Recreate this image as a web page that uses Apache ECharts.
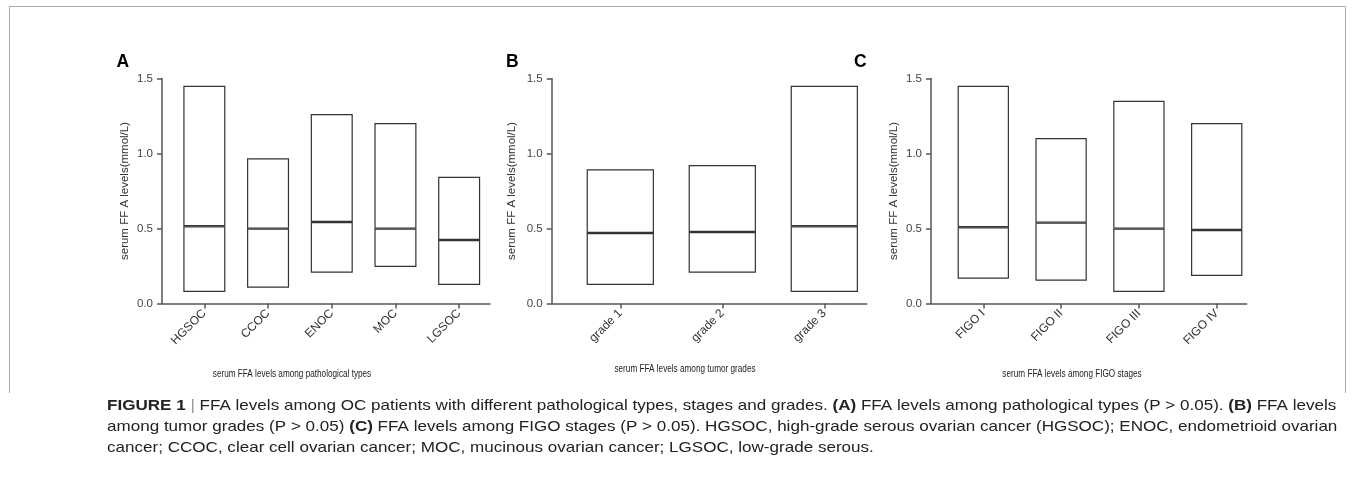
<!DOCTYPE html>
<html>
<head>
<meta charset="utf-8">
<script src="https://cdn.jsdelivr.net/npm/echarts@6/dist/echarts.min.js"></script>
<style>html,body{margin:0;padding:0;background:#fff}#c{width:1355px;height:493px}</style>
</head>
<body>
<div id="c"></div>
<script>
// ---- data ----
const catsA = ['HGSOC', 'CCOC', 'ENOC', 'MOC', 'LGSOC'];
const minA = [0.077, 0.105, 0.205, 0.243, 0.123];
const medA = [0.515, 0.499, 0.543, 0.499, 0.423];
const maxA = [1.452, 0.968, 1.263, 1.203, 0.845];

const catsB = ['grade 1', 'grade 2', 'grade 3'];
const minB = [0.123, 0.205, 0.077];
const medB = [0.470, 0.477, 0.515];
const maxB = [0.895, 0.923, 1.452];

const catsC = ['FIGO I', 'FIGO II', 'FIGO III', 'FIGO IV'];
const minC = [0.165, 0.152, 0.077, 0.183];
const medC = [0.508, 0.539, 0.499, 0.490];
const maxC = [1.452, 1.103, 1.352, 1.203];

const yMin = 0, yMax = 1.5, yStep = 0.5;
const yTitle = 'serum FF A levels(mmol/L)';
const panelLetters = ['A', 'B', 'C'];
const xTitles = ['serum FFA levels among pathological types', 'serum FFA levels among tumor grades', 'serum FFA levels among FIGO stages'];
const captionLines = [
  '{b|FIGURE 1} {s||} FFA levels among OC patients with different pathological types, stages and grades. {b|(A)} FFA levels among pathological types (P > 0.05). {b|(B)} FFA levels',
  'among tumor grades (P > 0.05) {b|(C)} FFA levels among FIGO stages (P > 0.05). HGSOC, high-grade serous ovarian cancer (HGSOC); ENOC, endometrioid ovarian',
  'cancer; CCOC, clear cell ovarian cancer; MOC, mucinous ovarian cancer; LGSOC, low-grade serous.'
];

// ---- layout ----
const TOP = 78.5, H = 225;
const panels = [
  {cats: catsA, mn: minA, md: medA, mx: maxA, axisX: 162, axisEnd: 490, bandL: 172.5, bandW: 318.5, nameX: 292, nameY: 374, letterX: 116.5, nameGap: 31},
  {cats: catsB, mn: minB, md: medB, mx: maxB, axisX: 551.7, axisEnd: 866.7, bandL: 569.3, bandW: 306, nameX: 685, nameY: 369, letterX: 506, nameGap: 34},
  {cats: catsC, mn: minC, md: medC, mx: maxC, axisX: 931, axisEnd: 1246.7, bandL: 944.4, bandW: 311.2, nameX: 1072, nameY: 374, letterX: 854, nameGap: 31}
];

const AX = '#555', BOX = '#333';
const grid = [], xAxis = [], yAxis = [], series = [], graphic = [];
const fmt = v => v.toFixed(1);

panels.forEach((p, i) => {
  const gF = grid.length;
  grid.push({left: p.axisX, top: TOP, width: p.axisEnd - p.axisX, height: H});
  const gD = grid.length;
  grid.push({left: p.bandL, top: TOP, width: p.bandW, height: H});

  // frame axes
  xAxis.push({gridIndex: gF, type: 'value', min: 0, max: 1,
    axisLine: {show: true, onZero: false, lineStyle: {color: AX, width: 1.5}},
    axisTick: {show: false}, axisLabel: {show: false}, splitLine: {show: false}});
  yAxis.push({gridIndex: gF, type: 'value', min: yMin, max: yMax, interval: yStep,
    axisLine: {show: true, lineStyle: {color: AX, width: 1.5}},
    axisTick: {show: true, length: 5, lineStyle: {color: AX, width: 1.5}},
    axisLabel: {formatter: fmt, color: '#444', fontSize: 11.5, margin: 9},
    splitLine: {show: false},
    name: yTitle, nameLocation: 'middle', nameGap: p.nameGap, nameRotate: 90,
    nameTextStyle: {fontSize: 11.5, color: '#333'}});

  // data axes
  const xi = xAxis.length;
  xAxis.push({gridIndex: gD, type: 'category', data: p.cats,
    axisLine: {show: false},
    axisTick: {show: true, alignWithLabel: true, length: 5, lineStyle: {color: AX, width: 1.5}},
    axisLabel: {rotate: 45, fontSize: 12, color: '#333', margin: 8}});
  const yi = yAxis.length;
  yAxis.push({gridIndex: gD, type: 'value', min: yMin, max: yMax, show: false});

  const stack = 'p' + i;
  const lower = p.md.map((v, k) => v - p.mn[k]);
  const upper = p.mx.map((v, k) => v - p.md[k]);
  series.push({type: 'bar', xAxisIndex: xi, yAxisIndex: yi, stack, data: p.mn, barWidth: '66%',
    itemStyle: {color: 'rgba(0,0,0,0)'}, silent: true});
  [lower, upper].forEach(d => series.push({type: 'bar', xAxisIndex: xi, yAxisIndex: yi, stack, data: d, barWidth: '66%',
    itemStyle: {color: '#fff', borderColor: BOX, borderWidth: 1.2}}));

  graphic.push({type: 'text', left: p.letterX, top: 53.5, style: {text: panelLetters[i], font: 'bold 17.5px "Liberation Sans"', fill: '#000'}});
  graphic.push({type: 'text', x: p.nameX, y: p.nameY, scaleX: 0.78, style: {text: xTitles[i], font: '10.5px "Liberation Sans"', fill: '#222', align: 'center', verticalAlign: 'middle'}});
});

// figure frame (top, left, right)
graphic.push({type: 'polyline', shape: {points: [[9.5, 393], [9.5, 6.5], [1345.5, 6.5], [1345.5, 393]]}, style: {stroke: '#aaa', lineWidth: 1, fill: null}});

captionLines.forEach((t, k) => {
  graphic.push({type: 'text', x: 107, y: 406 + k * 21, scaleX: 1.137, style: {text: t, fill: '#222', verticalAlign: 'middle',
    font: '15px "Liberation Sans"',
    rich: {b: {fontWeight: 'bold', fontSize: 15, fontFamily: 'Liberation Sans', fill: '#222'},
           s: {fill: '#999', fontSize: 15, fontFamily: 'Liberation Sans'}}}});
});

const chart = echarts.init(document.getElementById('c'), null, {renderer: 'canvas'});
chart.setOption({
  animation: false,
  textStyle: {fontFamily: 'Liberation Sans'},
  grid, xAxis, yAxis, series, graphic
});
</script>
</body>
</html>
